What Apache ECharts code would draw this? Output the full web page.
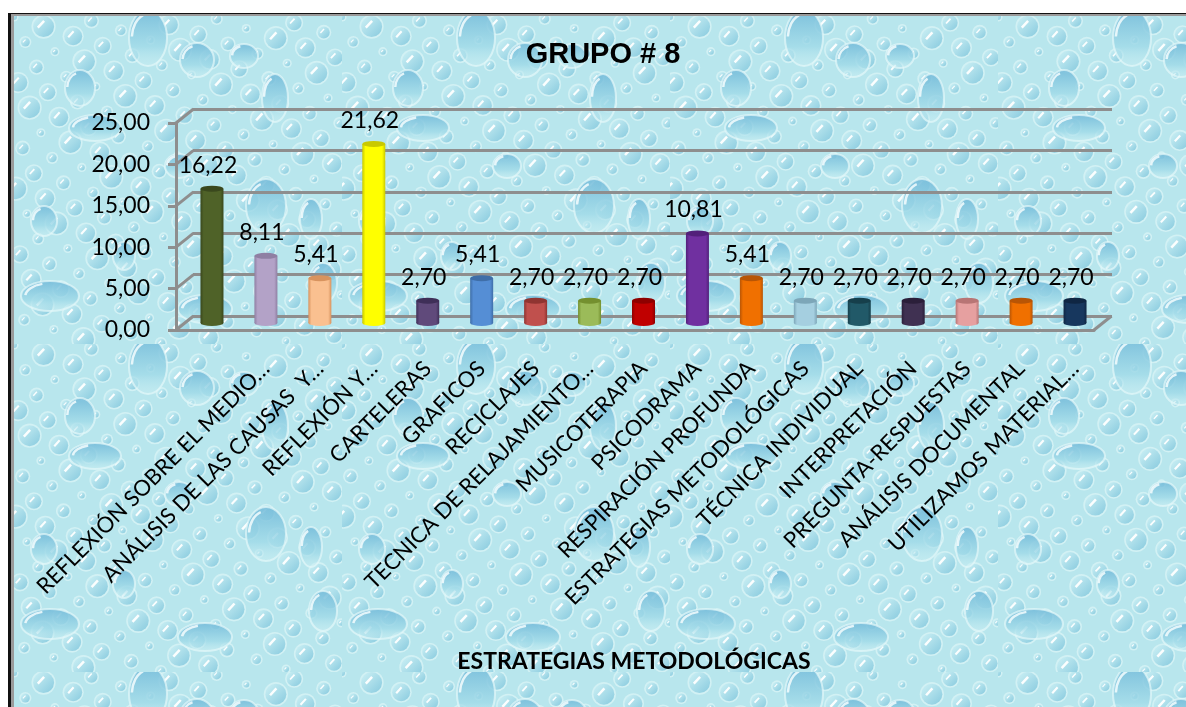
<!DOCTYPE html>
<html><head><meta charset="utf-8">
<style>html,body{margin:0;padding:0;background:#fff}#c{width:1186px;height:707px}</style>
<script src="https://cdn.jsdelivr.net/npm/echarts@6/dist/echarts.min.js"></script>
</head><body><div id="c"></div>
<script>
const titleText = 'GRUPO # 8';
const axisTitle = 'ESTRATEGIAS METODOLÓGICAS';
const categories = ['', 'REFLEXIÓN SOBRE EL MEDIO…', 'ANÁLISIS DE LAS CAUSAS  Y…', 'REFLEXIÓN Y…', 'CARTELERAS', 'GRAFICOS', 'RECICLAJES', 'TECNICA DE RELAJAMIENTO…', 'MUSICOTERAPIA', 'PSICODRAMA', 'RESPIRACIÓN PROFUNDA', 'ESTRATEGIAS METODOLÓGICAS', 'TÉCNICA INDIVIDUAL', 'INTERPRETACIÓN', 'PREGUNTA-RESPUESTAS', 'ANÁLISIS DOCUMENTAL', 'UTILIZAMOS MATERIAL…'];
const values = [16.22, 8.11, 5.41, 21.62, 2.70, 5.41, 2.70, 2.70, 2.70, 10.81, 5.41, 2.70, 2.70, 2.70, 2.70, 2.70, 2.70];
const barColors = ['#4f6228','#b3a2c7','#fac090','#ffff00','#604a7b','#558ed5','#c0504d','#9bbb59','#c00000','#7030a0','#f07000','#a5cfe0','#215968','#403152','#e6a0a0','#f07000','#17375e'];
const capColors = ['#3a481d','#8f7fa3','#d8935e','#c9c900','#3f2f58','#3f6ea8','#8f3431','#74902f','#8e0000','#52207a','#b85505','#7da6b8','#163f4b','#2b1f3a','#b87575','#b85505','#0f2643'];
const yTicks = [0, 5, 10, 15, 20, 25];

const GREY = '#8e8e8e', FONT = 'Lato, "Open Sans", sans-serif';
const DEPTH_X = 17.5, DEPTH_Y = -14;

// water-drop wallpaper tile (decoration only)
function makeTile() {
  const S = 328, raw = document.createElement('canvas');
  raw.width = raw.height = S;
  const g = raw.getContext('2d');
  g.fillStyle = '#b8e6ed'; g.fillRect(0, 0, S, S);
  function small(x, y, r) {
    g.save(); g.translate(x, y);
    g.fillStyle = 'rgba(232,250,250,.55)';
    g.beginPath(); g.arc(0, 0, r + 1.6, 0, 7); g.fill();
    const f = g.createLinearGradient(-r, -r, r, r);
    f.addColorStop(0, 'rgba(205,241,245,.9)');
    f.addColorStop(1, 'rgba(128,198,220,.9)');
    g.fillStyle = f; g.beginPath(); g.arc(0, 0, r, 0, 7); g.fill();
    g.strokeStyle = 'rgba(255,255,255,.95)'; g.lineWidth = Math.max(1.1, r * .24);
    g.beginPath(); g.moveTo(-r * .55, r * .1); g.lineTo(r * .05, -r * .55); g.stroke();
    g.restore();
  }
  function big(x, y, rx, ry) {
    g.save(); g.translate(x, y);
    const f = g.createLinearGradient(0, -ry, 0, ry);
    f.addColorStop(0, 'rgba(118,188,218,.9)');
    f.addColorStop(.65, 'rgba(160,218,232,.8)');
    f.addColorStop(1, 'rgba(205,240,244,.4)');
    g.fillStyle = f; g.beginPath(); g.ellipse(0, 0, rx, ry, 0, 0, 7); g.fill();
    g.strokeStyle = 'rgba(228,248,250,.7)'; g.lineWidth = 2; g.stroke();
    g.strokeStyle = 'rgba(250,255,255,.8)'; g.lineWidth = 2.5;
    g.beginPath(); g.ellipse(0, 0, rx * .85, ry * .85, 0, Math.PI * 1.02, Math.PI * 1.4); g.stroke();
    g.restore();
  }
  const phi = 0.6180339887;
  for (let i = 0; i < 170; i++) {
    const x = (i * phi % 1) * S, y = (i + .5) / 170 * S;
    small(x, y, 3 + (i * 7 % 6) * 1.5);
  }
  [[134,22,19,28],[183,44,17,17],[66,72,15,18],[261,82,13,24],[252,190,20,27],[297,203,11,20],
   [36,280,29,15],[81,112,26,13],[191,293,27,14],[309,267,14,20],[30,205,13,15],[165,150,14,12],
   [230,40,14,12],[110,240,11,14]].forEach(d => big(d[0], d[1], d[2], d[3]));
  const cv = document.createElement('canvas');
  cv.width = cv.height = S;
  const o = cv.getContext('2d');
  o.drawImage(raw, 0, 0);
  o.filter = 'blur(.6px)';
  o.drawImage(raw, 0, 0);
  return cv;
}

function bodyFill(c, d) {
  return { type: 'linear', x: 0, y: 0, x2: 1, y2: 0, colorStops: [
    { offset: 0, color: d }, { offset: .14, color: c }, { offset: .86, color: c }, { offset: 1, color: d }] };
}
const barData = values.map((v, i) => ({ value: v, itemStyle: { color: bodyFill(barColors[i], capColors[i]) } }));
const capData = values.map((v, i) => ({ value: v, itemStyle: { color: capColors[i] } }));
const baseData = values.map((v, i) => ({ value: v, itemStyle: { color: bodyFill(barColors[i], capColors[i]) } }));
const frameData = yTicks.map(t => [0, t]).concat([[1, 0]]);

const BAR_TOP = 116, BAR_H = 207;
const chart = echarts.init(document.getElementById('c'), null, { renderer: 'canvas' });
chart.setOption({
  animation: false,
  backgroundColor: '#ffffff',
  graphic: [
    { type: 'rect', z: -30, shape: { x: 8, y: 13, width: 1178, height: 694 }, style: { fill: '#111' } },
    { type: 'rect', z: -29, shape: { x: 11, y: 14, width: 1175, height: 693 }, style: { fill: '#9a9a9a' } },
    { type: 'rect', z: -28, x: 14, y: 16, shape: { x: 0, y: 0, width: 1172, height: 691 },
      style: { fill: { image: makeTile(), repeat: 'repeat' } } }
  ],
  title: [
    { text: titleText, left: 598, top: 35, textAlign: 'center',
      textStyle: { fontFamily: '"Liberation Sans", Arial, sans-serif', fontWeight: 'bold', fontSize: 29, color: '#000' } },
    { text: axisTitle, left: 629, top: 645, textAlign: 'center',
      textStyle: { fontFamily: FONT, fontWeight: 'bold', fontSize: 23, color: '#000' } }
  ],
  grid: [
    { left: 193, top: 109, width: 919, height: 207 },
    { left: 176, top: 123, width: 918, height: 207 },
    { left: 185, top: BAR_TOP, width: 917, height: BAR_H }
  ],
  xAxis: [
    { gridIndex: 0, type: 'value', min: 0, max: 1, show: false },
    { gridIndex: 1, type: 'value', min: 0, max: 1, splitLine: { show: false },
      axisLine: { show: true, onZero: false, lineStyle: { color: GREY, width: 3 } },
      axisTick: { show: false }, axisLabel: { show: false } },
    { gridIndex: 2, type: 'category', data: categories,
      axisLine: { show: false }, axisTick: { show: false },
      axisLabel: { interval: 0, rotate: 45, margin: 42, fontFamily: FONT, fontSize: 22, color: '#000', hideOverlap: false } }
  ],
  yAxis: [
    { gridIndex: 0, type: 'value', min: 0, max: 25, interval: 5,
      axisLine: { show: false }, axisTick: { show: false }, axisLabel: { show: false },
      splitLine: { show: true, lineStyle: { color: GREY, width: 3 } } },
    { gridIndex: 1, type: 'value', min: 0, max: 25, interval: 5, splitLine: { show: false },
      axisLine: { show: true, lineStyle: { color: GREY, width: 3 } },
      axisTick: { show: true, length: 8, lineStyle: { color: GREY, width: 3 } },
      axisLabel: { margin: 26, fontFamily: FONT, fontSize: 23, color: '#000',
        formatter: v => v.toFixed(2).replace('.', ',') } },
    { gridIndex: 2, type: 'value', min: 0, max: 25, show: false }
  ],
  series: [
    { type: 'custom', xAxisIndex: 1, yAxisIndex: 1, data: frameData, silent: true, z: 1,
      renderItem: (p, api) => {
        const a = api.coord([api.value(0), api.value(1)]);
        return { type: 'line', shape: { x1: a[0], y1: a[1], x2: a[0] + DEPTH_X, y2: a[1] + DEPTH_Y },
          style: { stroke: GREY, lineWidth: 3, fill: null } };
      } },
    { type: 'pictorialBar', xAxisIndex: 2, yAxisIndex: 2, data: baseData, symbol: 'circle',
      symbolSize: [23, 6], symbolPosition: 'start', symbolOffset: [0, '50%'], z: 3 },
    { type: 'bar', xAxisIndex: 2, yAxisIndex: 2, data: barData, barWidth: 23, z: 4,
      label: { show: true, position: 'top', distance: 12, offset: [-4, 0], fontFamily: FONT, fontSize: 23, color: '#000',
        formatter: p => p.value.toFixed(2).replace('.', ',') } },
    { type: 'pictorialBar', xAxisIndex: 2, yAxisIndex: 2, data: capData, symbol: 'circle',
      symbolSize: [23, 6], symbolPosition: 'end', symbolOffset: [0, '-50%'], z: 5 }
  ]
});
</script></body></html>
